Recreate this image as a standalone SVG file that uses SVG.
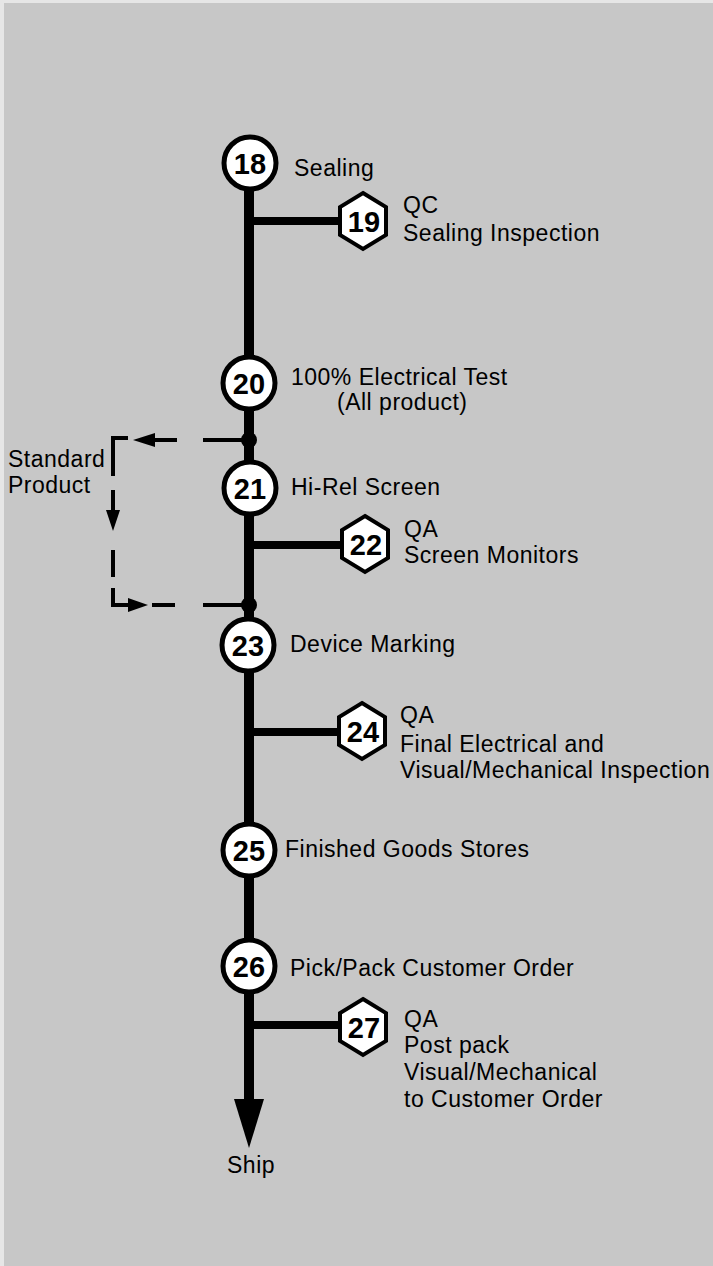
<svg xmlns="http://www.w3.org/2000/svg" width="713" height="1266" viewBox="0 0 713 1266">
<defs>
<style>
.lbl{font-family:"Liberation Sans",Arial,sans-serif;font-size:23px;letter-spacing:0.5px;fill:#000}
.num{font-family:"Liberation Sans",Arial,sans-serif;font-size:29px;font-weight:bold;fill:#000;text-anchor:middle}
.circ{fill:#fff;stroke:#000;stroke-width:5}
.hex{fill:#fff;stroke:#000;stroke-width:4;stroke-linejoin:miter}
.main{stroke:#000;stroke-width:10;fill:none}
.br{stroke:#000;stroke-width:8;fill:none}
.dash{stroke:#000;stroke-width:4;fill:none}
</style>
</defs>
<rect x="0" y="0" width="713" height="1266" fill="#c7c7c7"/>
<rect x="0" y="0" width="713" height="3" fill="#e6e6e6"/>
<rect x="0" y="0" width="4" height="1266" fill="#e6e6e6"/>

<g id="connectors">
  <line class="main" x1="249" y1="170" x2="249" y2="1104"/>
  <polygon points="234,1099 264,1099 249,1148" fill="#000"/>
  <line class="br" x1="249" y1="221" x2="342" y2="221"/>
  <line class="br" x1="249" y1="545" x2="342" y2="545"/>
  <line class="br" x1="249" y1="732" x2="340" y2="732"/>
  <line class="br" x1="249" y1="1025" x2="340" y2="1025"/>
  <circle cx="249" cy="440" r="8" fill="#000"/>
  <circle cx="249" cy="605" r="8" fill="#000"/>
  <line class="dash" x1="203" y1="440" x2="243" y2="440"/>
  <line class="dash" x1="150" y1="440" x2="177" y2="440"/>
  <polygon points="133,440 155,433 155,447" fill="#000"/>
  <polyline class="dash" points="128,438 113,438 113,476"/>
  <line class="dash" x1="113" y1="490" x2="113" y2="515"/>
  <polygon points="113,531 106,510 120,510" fill="#000"/>
  <line class="dash" x1="113" y1="550" x2="113" y2="577"/>
  <polyline class="dash" points="113,588 113,605 132,605"/>
  <polygon points="148,605 128,598 128,612" fill="#000"/>
  <line class="dash" x1="152" y1="605" x2="175" y2="605"/>
  <line class="dash" x1="203" y1="605" x2="242" y2="605"/>
</g>

<g id="n18"><circle class="circ" cx="250" cy="163" r="26"/><text class="num" x="250" y="174">18</text></g>
<g id="n19"><polygon class="hex" points="363,193 386,207 386,235 363,249 340,235 340,207"/><text class="num" x="364" y="232">19</text></g>
<g id="n20"><circle class="circ" cx="249" cy="383" r="26"/><text class="num" x="249" y="394">20</text></g>
<g id="n21"><circle class="circ" cx="250" cy="488" r="26"/><text class="num" x="250" y="499">21</text></g>
<g id="n22"><polygon class="hex" points="365,516 388,530 388,558 365,572 342,558 342,530"/><text class="num" x="366" y="555">22</text></g>
<g id="n23"><circle class="circ" cx="248" cy="645" r="26"/><text class="num" x="248" y="656">23</text></g>
<g id="n24"><polygon class="hex" points="362,703 385,717 385,745 362,759 339,745 339,717"/><text class="num" x="363" y="742">24</text></g>
<g id="n25"><circle class="circ" cx="249" cy="850" r="26"/><text class="num" x="249" y="861">25</text></g>
<g id="n26"><circle class="circ" cx="249" cy="966" r="26"/><text class="num" x="249" y="977">26</text></g>
<g id="n27"><polygon class="hex" points="363,999 386,1013 386,1041 363,1055 340,1041 340,1013"/><text class="num" x="364" y="1038">27</text></g>

<g id="labels">
  <text class="lbl" x="294" y="176">Sealing</text>
  <text class="lbl" x="403" y="213">QC</text>
  <text class="lbl" x="403" y="241">Sealing Inspection</text>
  <text class="lbl" x="291" y="385">100% Electrical Test</text>
  <text class="lbl" x="337" y="410">(All product)</text>
  <text class="lbl" x="8" y="467">Standard</text>
  <text class="lbl" x="8" y="493">Product</text>
  <text class="lbl" x="291" y="495">Hi-Rel Screen</text>
  <text class="lbl" x="404" y="537">QA</text>
  <text class="lbl" x="404" y="563">Screen Monitors</text>
  <text class="lbl" x="290" y="652">Device Marking</text>
  <text class="lbl" x="400" y="723">QA</text>
  <text class="lbl" x="400" y="752">Final Electrical and</text>
  <text class="lbl" x="400" y="778">Visual/Mechanical Inspection</text>
  <text class="lbl" x="285" y="857">Finished Goods Stores</text>
  <text class="lbl" x="290" y="976">Pick/Pack Customer Order</text>
  <text class="lbl" x="404" y="1027">QA</text>
  <text class="lbl" x="404" y="1053">Post pack</text>
  <text class="lbl" x="404" y="1080">Visual/Mechanical</text>
  <text class="lbl" x="404" y="1107">to Customer Order</text>
  <text class="lbl" x="227" y="1173">Ship</text>
</g>
</svg>
